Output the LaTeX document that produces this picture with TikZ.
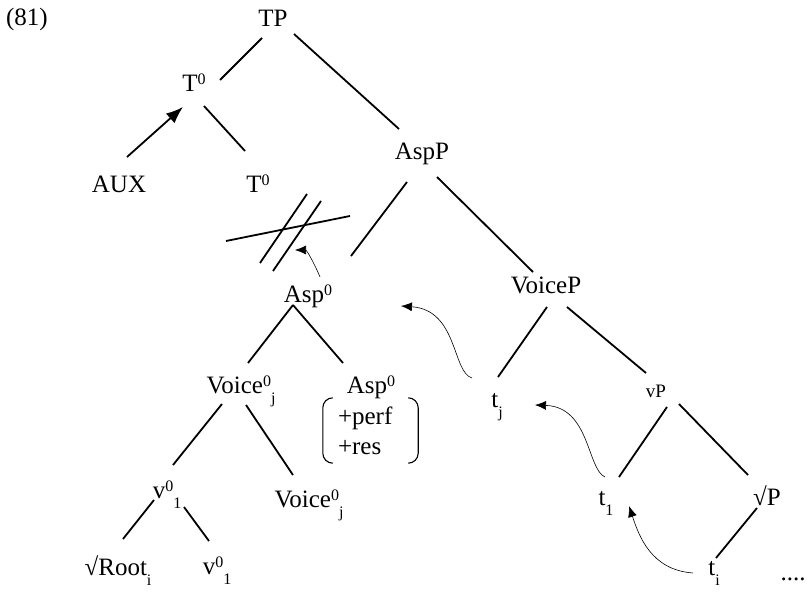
\documentclass[tikz,border=0pt]{standalone}
\usepackage{fontspec}
\setmainfont{Liberation Serif}
\usetikzlibrary{arrows.meta, positioning}
\tikzstyle{cat} = [text height=18pt,
			text depth=6pt,
			inner sep=2pt]
\tikzstyle{feat} = [text width=65pt,
			inner xsep=15pt,
			inner ysep=0pt,
			minimum height=65pt,
			align=left]
\tikzstyle{branch} = [draw, line width=1.8pt]
\tikzstyle{raise} = [draw, line width=1.8pt, -{Latex[length=17pt, width=13pt]}]
\tikzstyle{move} = [draw, line width=0.6pt, -{Latex[length=11pt, width=9pt]}]
\tikzstyle{bracket} = [draw, line width=1.1pt, rounded corners=10pt]
\newcommand{\hiidx}[1]{\raisebox{7pt}{\fontsize{16}{16}\selectfont #1}}
\newcommand{\loidx}[1]{\raisebox{-10pt}{\fontsize{16}{16}\selectfont #1}}

\begin{document}
\begin{tikzpicture}[x=1pt, y=-1pt, on grid, font=\fontsize{25}{30}\selectfont]
	\useasboundingbox (0,0) rectangle (807,594);
	\node [cat] (num) at (27,20) {(81)};
	\node [cat] (tp) at (273,21) {TP};
	\node [cat, below left=65pt and 79pt of tp] (tu) {T\hiidx{0}};
	\node [cat, below left=101pt and 75pt of tu] (aux) {AUX};
	\node [cat, below right=101pt and 64pt of tu] (tl) {T\hiidx{0}};
	\node [cat, below right=133pt and 149pt of tp] (aspp) {AspP};
	\node [cat, below left=142pt and 114pt of aspp] (aspm) {Asp\hiidx{0}};
	\node [cat, below right=133pt and 124pt of aspp] (voicep) {VoiceP};
	\node [cat, below left=91pt and 67pt of aspm] (voicej) {Voice\hiidx{0}\loidx{j}};
	\node [cat, below right=91pt and 63pt of aspm] (aspr) {Asp\hiidx{0}};
	\node [feat, below left=43.5pt and 0.5pt of aspr] (feat) {+perf\\+res};
	\node [cat, below left=105pt and 74pt of voicej] (vu) {v\hiidx{0}\loidx{1}};
	\node [cat, below right=114pt and 68pt of voicej] (voicel) {Voice\hiidx{0}\loidx{j}};
	\node [cat, below left=77pt and 49pt of vu] (root) {√Root\loidx{i}};
	\node [cat, below right=76pt and 50pt of vu] (vl) {v\hiidx{0}\loidx{1}};
	\node [cat, below left=114pt and 49pt of voicep] (tj) {t\loidx{j}};
	\node [cat, font=\fontsize{19}{22}\selectfont, below right=104pt and 110pt of voicep] (vp) {vP};
	\node [cat, below left=108pt and 50pt of vp] (tone) {t\loidx{1}};
	\node [cat, below right=108pt and 111pt of vp] (rp) {√P};
	\node [cat, below left=70pt and 53pt of rp] (ti) {t\loidx{i}};
	\node [cat, below right=5pt and 79pt of ti] (dots) {....};
	\coordinate (cut) at (295,250);

	% branches
	\path [branch] ([shift={(-11,17)}]tp.center) -- ([shift={(26,-6)}]tu.center);
	\path [branch] ([shift={(21,13)}]tp.center) -- ([shift={(-23,-25)}]aspp.center);
	\path [branch] ([shift={(10,20)}]tu.center) -- ([shift={(-13,-36)}]tl.center);
	\path [raise] ([shift={(8,-30)}]aux.center) -- ([shift={(-11,21)}]tu.center);
	\path [branch] ([shift={(-15,28)}]aspp.center) -- ([shift={(43,-40)}]aspm.center);
	\path [branch] ([shift={(15,23)}]aspp.center) -- ([shift={(-13,-15)}]voicep.center);
	\path [branch] ([shift={(-15,9)}]aspm.center) -- ([shift={(7,-24)}]voicej.center);
	\path [branch] ([shift={(-15,9)}]aspm.center) -- ([shift={(-28,-24)}]aspr.center);
	\path [branch] ([shift={(-19,17)}]voicej.center) -- ([shift={(6,-27)}]vu.center);
	\path [branch] ([shift={(5,18)}]voicej.center) -- ([shift={(-16,-26)}]voicel.center);
	\path [branch] ([shift={(-13,8)}]vu.center) -- ([shift={(5,-30)}]root.center);
	\path [branch] ([shift={(17,15)}]vu.center) -- ([shift={(-8,-27)}]vl.center);
	\path [branch] ([shift={(1,20)}]voicep.center) -- ([shift={(1,-24)}]tj.center);
	\path [branch] ([shift={(21,20)}]voicep.center) -- ([shift={(-10,-18)}]vp.center);
	\path [branch] ([shift={(11,16)}]vp.center) -- ([shift={(13,-22)}]tone.center);
	\path [branch] ([shift={(23,13)}]vp.center) -- ([shift={(-19,-24)}]rp.center);
	\path [branch] ([shift={(-10,9)}]rp.center) -- ([shift={(2,-11)}]ti.center);

	% blocked head movement
	\path [branch] (307,194) -- (260,263);
	\path [branch] (321,201) -- (273,271);
	\path [branch] (226,241) -- (350,216);

	% feature bundle
	\path [bracket] ([xshift=10pt]feat.north west) -- (feat.north west)
		-- (feat.south west) -- ([xshift=10pt]feat.south west);
	\path [bracket] ([xshift=-10pt]feat.north east) -- (feat.north east)
		-- (feat.south east) -- ([xshift=-10pt]feat.south east);

	% movement
	\path [move] ([shift={(-25,-23)}]tj.center) .. controls +(-20,-6) and +(57,4) .. ([shift={(93,10)}]aspm.center);
	\path [move] ([shift={(-1,-22)}]tone.center) .. controls +(-18,-8) and +(55,2) .. ([shift={(38,4)}]tj.center);
	\path [move] ([shift={(-21,4)}]ti.center) .. controls +(-42,-3) and +(10,30) .. ([shift={(23,7)}]tone.center);
	\path [move] ([shift={(12,-19)}]aspm.center) .. controls +(-4,-10) and +(12,0) .. (cut);
\end{tikzpicture}
\end{document}
